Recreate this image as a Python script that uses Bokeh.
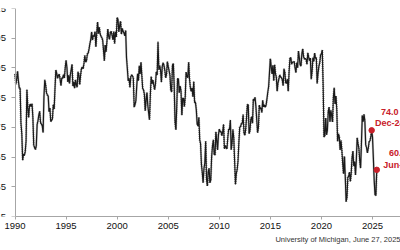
import numpy as np
from bokeh.plotting import figure
from bokeh.models import FixedTicker, Title, ColumnDataSource
from bokeh.core.properties import value
from bokeh.embed import file_html
from bokeh.resources import INLINE

# University of Michigan consumer sentiment, monthly, Jan 1990 - Jun 2025
start_year = 1990
sentiment = [
    93.0, 89.5, 91.3, 93.9, 90.6, 88.3, 88.2, 76.4, 72.8, 63.9, 66.0, 65.5,   # 1990
    66.8, 70.4, 87.7, 81.8, 78.3, 82.1, 82.9, 82.0, 83.0, 78.3, 69.1, 68.2,   # 1991
    67.5, 68.8, 76.0, 77.2, 79.2, 80.4, 76.6, 76.1, 75.6, 73.3, 85.3, 91.0,   # 1992
    89.3, 86.6, 85.9, 85.6, 80.3, 81.5, 77.0, 77.3, 77.9, 82.7, 81.2, 88.2,   # 1993
    94.3, 93.2, 91.5, 92.6, 92.8, 91.2, 89.0, 91.7, 91.5, 92.7, 91.6, 95.1,   # 1994
    97.6, 95.1, 90.3, 92.5, 89.8, 92.7, 94.4, 96.2, 88.9, 90.2, 88.2, 91.0,   # 1995
    89.3, 88.5, 93.7, 92.7, 89.4, 92.4, 94.7, 95.3, 94.7, 96.5, 99.2, 96.9,   # 1996
    97.4, 99.7, 100.0, 101.4, 103.2, 104.5, 107.1, 104.4, 106.0, 105.6, 107.2, 102.1,  # 1997
    106.6, 110.4, 106.5, 108.7, 106.5, 105.6, 105.2, 104.4, 100.9, 97.4, 102.7, 100.5,  # 1998
    103.9, 108.1, 105.7, 104.6, 106.8, 107.3, 106.0, 104.5, 107.2, 103.2, 107.2, 105.4,  # 1999
    112.0, 111.3, 107.1, 109.2, 110.7, 106.4, 108.3, 107.3, 106.8, 105.8, 107.6, 98.4,  # 2000
    94.7, 90.6, 91.5, 88.4, 92.0, 92.6, 92.4, 91.5, 81.8, 82.7, 83.9, 88.8,   # 2001
    93.0, 90.7, 95.7, 93.0, 96.9, 92.4, 88.1, 87.6, 86.1, 80.6, 84.2, 86.7,   # 2002
    82.4, 79.9, 77.6, 86.0, 92.1, 89.7, 90.9, 89.3, 87.7, 89.6, 93.7, 92.6,   # 2003
    103.8, 94.4, 95.8, 94.2, 90.2, 95.6, 96.7, 95.9, 94.2, 91.7, 92.8, 97.1,  # 2004
    95.5, 94.1, 92.6, 87.7, 86.9, 96.0, 96.5, 89.1, 76.9, 74.2, 81.6, 91.5,   # 2005
    91.2, 86.7, 88.9, 87.4, 79.1, 84.9, 84.7, 82.0, 85.4, 93.6, 92.1, 91.7,   # 2006
    96.9, 91.3, 88.4, 87.1, 88.3, 85.3, 90.4, 83.4, 83.4, 80.9, 76.1, 75.5,   # 2007
    78.4, 70.8, 69.5, 62.6, 59.8, 56.4, 61.2, 63.0, 70.3, 57.6, 55.3, 60.1,   # 2008
    61.2, 56.3, 57.3, 65.1, 68.7, 70.8, 66.0, 65.7, 73.5, 70.6, 67.4, 72.5,   # 2009
    74.4, 73.6, 73.6, 72.2, 73.6, 76.0, 67.8, 68.9, 68.2, 67.7, 71.6, 74.5,   # 2010
    74.2, 77.5, 67.5, 69.8, 74.3, 71.5, 63.7, 55.8, 59.5, 60.8, 63.7, 69.9,   # 2011
    75.0, 75.3, 76.2, 76.4, 79.3, 73.2, 72.3, 74.3, 78.3, 82.6, 82.7, 72.9,   # 2012
    73.8, 77.6, 78.6, 76.4, 84.5, 84.1, 85.1, 82.1, 77.5, 73.2, 75.1, 82.5,   # 2013
    81.2, 81.6, 80.0, 84.1, 81.9, 82.5, 81.8, 82.5, 84.6, 86.9, 88.8, 93.6,   # 2014
    98.1, 95.4, 93.0, 95.9, 90.7, 96.1, 93.1, 91.9, 87.2, 90.0, 91.3, 92.6,   # 2015
    92.0, 91.7, 91.0, 89.0, 94.7, 93.5, 90.0, 89.8, 91.2, 87.2, 93.8, 98.2,   # 2016
    98.5, 96.3, 96.9, 97.0, 97.1, 95.0, 93.4, 96.8, 95.1, 100.7, 98.5, 95.9,  # 2017
    95.7, 99.7, 101.4, 98.8, 98.0, 98.2, 97.9, 96.2, 100.1, 98.6, 97.5, 98.3, # 2018
    91.2, 93.8, 98.4, 97.2, 100.0, 98.2, 98.4, 89.8, 93.2, 95.5, 96.8, 99.3,  # 2019
    99.8, 101.0, 89.1, 71.8, 72.3, 78.1, 72.5, 74.1, 80.4, 81.8, 76.9, 80.7,  # 2020
    79.0, 76.8, 84.9, 88.3, 82.9, 85.5, 81.2, 70.3, 72.8, 71.7, 67.4, 70.6,   # 2021
    67.2, 62.8, 59.4, 65.2, 58.4, 50.0, 51.5, 58.2, 58.6, 59.9, 56.8, 59.7,   # 2022
    64.9, 67.0, 62.0, 63.5, 59.0, 64.2, 71.5, 69.5, 67.9, 63.8, 61.3, 69.7,   # 2023
    79.0, 76.9, 79.4, 77.2, 69.1, 68.2, 66.4, 67.9, 70.1, 70.5, 71.8, 74.0,   # 2024
    71.7, 64.7, 57.0, 52.2, 52.2, 60.7,                                       # 2025
]

highlight_labels = ["74.0\nDec-24", "60.7\nJun-25"]
highlight_years = [2024 + 11 / 12, 2025 + 5 / 12]
highlight_values = [74.0, 60.7]

x_ticks = [1990, 1995, 2000, 2005, 2010, 2015, 2020, 2025]
y_ticks = [45, 55, 65, 75, 85, 95, 105, 115]
source_text = "University of Michigan, June 27, 2025"

years = start_year + np.arange(len(sentiment)) / 12.0

RED = "#C8202A"
FONT = "Liberation Sans"

p = figure(frame_width=400, frame_height=208,
           x_range=(1988.58, 2027.74), y_range=(45, 115),
           min_border_left=0, min_border_right=0, min_border_top=8, min_border_bottom=0,
           output_backend="svg", toolbar_location=None)

p.outline_line_color = None
p.xgrid.grid_line_color = None
p.ygrid.grid_line_color = None
p.background_fill_color = "white"
p.border_fill_color = "white"

src = ColumnDataSource(dict(x=years, y=sentiment))
p.line("x", "y", source=src, line_color="#8C8C8C", line_width=2.2, line_dash="1 1")
p.line("x", "y", source=src, line_color="#1A1A1A", line_width=1.2)

hsrc = ColumnDataSource(dict(x=highlight_years, y=highlight_values, t=highlight_labels))
p.scatter("x", "y", source=hsrc, size=5.5, fill_color=RED, line_color=RED)
p.text(x=[highlight_years[0]], y=[highlight_values[0]], text=[highlight_labels[0]],
       x_offset=18, y_offset=-13, text_align="center", text_baseline="middle",
       text_color=RED, text_font=value(FONT), text_font_style="bold",
       text_font_size="9px", text_line_height=1.15)
p.text(x=[highlight_years[1]], y=[highlight_values[1]], text=[highlight_labels[1]],
       x_offset=21, y_offset=-11, text_align="center", text_baseline="middle",
       text_color=RED, text_font=value(FONT), text_font_style="bold",
       text_font_size="9px", text_line_height=1.15)

# axes
p.xaxis.ticker = FixedTicker(ticks=x_ticks)
p.xaxis.bounds = (1990, 2027.74)
p.xaxis.axis_line_color = "#A6A6A6"
p.xaxis.major_tick_line_color = "#A6A6A6"
p.xaxis.major_tick_in = 0
p.xaxis.major_tick_out = 3
p.xaxis.minor_tick_line_color = None
p.xaxis.major_label_text_font = FONT
p.xaxis.major_label_text_font_size = "9.5px"
p.xaxis.major_label_text_color = "#111111"
p.xaxis.major_label_standoff = 3

p.yaxis.fixed_location = 1990
p.yaxis.ticker = FixedTicker(ticks=y_ticks)
p.yaxis.axis_line_color = "#A6A6A6"
p.yaxis.major_tick_line_color = "#A6A6A6"
p.yaxis.major_tick_in = 0
p.yaxis.major_tick_out = 4
p.yaxis.minor_tick_line_color = None
p.yaxis.major_label_text_font = FONT
p.yaxis.major_label_text_font_size = "9.5px"
p.yaxis.major_label_text_color = "#111111"
p.yaxis.major_label_standoff = 5

p.add_layout(Title(text=source_text, align="right", text_font=FONT,
                   text_font_size="7.5px", text_font_style="normal",
                   text_color="#333333", standoff=2), "below")

open("out.html", "w").write(file_html(p, INLINE))
